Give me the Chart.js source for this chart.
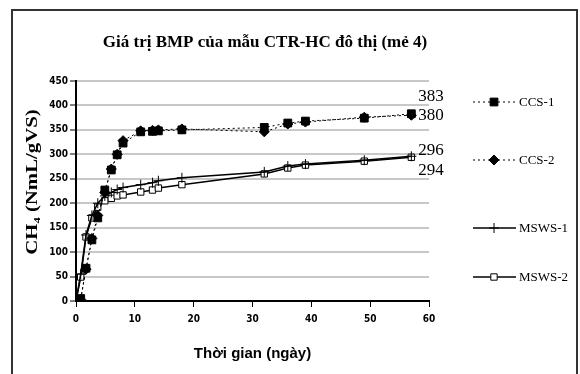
<!doctype html>
<html lang="vi">
  <head>
    <meta charset="utf-8">
    <title>Giá trị BMP của mẫu CTR-HC đô thị (mẻ 4)</title>
    <style>
      * { margin: 0; padding: 0; }
      body { background: #fff; }
      .chartBox { width: 580px; height: 374px; }
    </style>
  </head>
  <body>
    <div class="chartBox">
      <canvas id="myChart" width="580" height="374"></canvas>
    </div>
    <script src="https://cdn.jsdelivr.net/npm/chart.js"></script>
    <script>
    // data
    const days = [0, 0.8, 1.7, 2.7, 3.7, 4.9, 6, 7, 8, 11, 13, 14, 18, 32, 36, 39, 49, 57];
    const ccs1 = [0, 5, 67, 125, 170, 227, 268, 299, 323, 346, 347, 348, 350, 355, 364, 368, 374, 383];
    const ccs2 = [0, 3, 65, 128, 175, 222, 270, 300, 328, 348, 349, 350, 352, 346, 362, 366, 376, 380];
    const msws1 = [0, 55, 135, 175, 200, 215, 222, 228, 232, 238, 242, 246, 252, 264, 276, 280, 288, 296];
    const msws2 = [0, 49, 131, 170, 192, 205, 210, 215, 217, 223, 227, 231, 238, 260, 272, 278, 286, 294];
    const seriesNames = ['CCS-1', 'CCS-2', 'MSWS-1', 'MSWS-2'];
    const endLabels = ['383', '380', '296', '294'];
    const yTicks = [0, 50, 100, 150, 200, 250, 300, 350, 400, 450];
    const xTicks = [0, 10, 20, 30, 40, 50, 60];

    const toPoints = vals => vals.map((v, i) => ({x: days[i], y: v}));

    const data = {
      datasets: [{
        label: seriesNames[0],
        data: toPoints(ccs1),
        borderColor: '#000',
        borderWidth: 1,
        borderDash: [2, 3],
        pointStyle: 'rect',
        pointRadius: 5.5,
        pointBackgroundColor: '#000',
        pointBorderColor: '#000',
        endDy: -17
      }, {
        label: seriesNames[1],
        data: toPoints(ccs2),
        borderColor: '#000',
        borderWidth: 1,
        borderDash: [2, 3],
        pointStyle: 'rectRot',
        pointRadius: 5,
        pointBackgroundColor: '#000',
        pointBorderColor: '#000',
        endDy: 0
      }, {
        label: seriesNames[2],
        data: toPoints(msws1),
        borderColor: '#000',
        borderWidth: 1.5,
        pointStyle: 'cross',
        pointRadius: 5,
        pointBorderWidth: 1,
        pointBorderColor: '#000',
        endDy: -6
      }, {
        label: seriesNames[3],
        data: toPoints(msws2),
        borderColor: '#000',
        borderWidth: 1.5,
        pointStyle: 'rect',
        pointRadius: 4.5,
        pointBorderWidth: 1,
        pointBackgroundColor: '#fff',
        pointBorderColor: '#000',
        endDy: 13
      }]
    };

    // frame, titles, legend and end labels
    const decor = {
      id: 'decor',
      beforeDraw(chart) {
        const ctx = chart.ctx;
        ctx.save();
        ctx.fillStyle = '#fff';
        ctx.fillRect(0, 0, chart.width, chart.height);
        ctx.strokeStyle = '#333';
        ctx.lineWidth = 2;
        ctx.strokeRect(12, 10, 565, 380);
        ctx.restore();
      },
      afterDraw(chart) {
        const ctx = chart.ctx;
        ctx.save();
        ctx.fillStyle = '#000';
        ctx.font = 'bold 17px "Liberation Serif"';
        ctx.textAlign = 'center';
        ctx.textBaseline = 'middle';
        ctx.fillText('Giá trị BMP của mẫu CTR-HC đô thị (mẻ 4)', 265, 43);

        // y axis title, stretched along its length like the original
        ctx.save();
        ctx.translate(33, 182);
        ctx.rotate(-Math.PI / 2);
        ctx.scale(1.3, 1);
        ctx.font = 'bold 16px "Liberation Serif"';
        ctx.fillText('CH₄ (NmL/gVS)', 0, 0);
        ctx.restore();

        // end labels
        ctx.font = '17px "Liberation Serif"';
        ctx.textAlign = 'left';
        chart.data.datasets.forEach((ds, i) => {
          const last = ds.data[ds.data.length - 1];
          const px = chart.scales.x.getPixelForValue(last.x);
          const py = chart.scales.y.getPixelForValue(last.y);
          ctx.fillText(endLabels[i], px + 7, py + ds.endDy);
        });

        // legend
        const legY = [102, 160, 228, 277];
        ctx.font = '13px "Liberation Serif"';
        chart.data.datasets.forEach((ds, i) => {
          const y = legY[i];
          ctx.save();
          ctx.strokeStyle = '#000';
          ctx.lineWidth = ds.borderWidth;
          ctx.setLineDash(ds.borderDash || []);
          ctx.beginPath();
          ctx.moveTo(473, y);
          ctx.lineTo(516, y);
          ctx.stroke();
          ctx.restore();
          ctx.save();
          ctx.fillStyle = ds.pointBackgroundColor || '#000';
          ctx.strokeStyle = '#000';
          ctx.lineWidth = ds.pointBorderWidth || 1;
          Chart.helpers.drawPoint(ctx, {pointStyle: ds.pointStyle, radius: ds.pointRadius, borderWidth: ctx.lineWidth}, 494, y);
          ctx.restore();
          ctx.fillText(ds.label, 519, y + 1);
        });
        ctx.restore();
      }
    };

    const tickFont = {family: '"DejaVu Sans Condensed", "Liberation Sans"', size: 10, weight: 'bold'};

    const config = {
      type: 'line',
      data,
      options: {
        responsive: false,
        animation: false,
        layout: {padding: {left: 0, top: 81, right: 151, bottom: 0}},
        plugins: {legend: {display: false}, tooltip: {enabled: false}},
        scales: {
          x: {
            type: 'linear',
            min: 0,
            max: 60,
            afterBuildTicks: s => { s.ticks = xTicks.map(v => ({value: v})); },
            afterFit: s => { s.height = 73; },
            border: {color: '#000', width: 2},
            grid: {drawOnChartArea: false, drawTicks: true, tickLength: 6, color: '#000'},
            ticks: {color: '#000', font: tickFont, padding: 6, maxRotation: 0},
            title: {
              display: true,
              text: 'Thời gian (ngày)',
              color: '#000',
              font: {family: '"Liberation Sans"', size: 15, weight: 'bold'},
              padding: {top: 0, bottom: 11}
            }
          },
          y: {
            min: 0,
            max: 450,
            afterBuildTicks: s => { s.ticks = yTicks.map(v => ({value: v})); },
            afterFit: s => { s.width = 76; },
            border: {color: '#000', width: 2},
            grid: {color: '#c8c8c8', lineWidth: 2, tickLength: 6, tickColor: '#000', tickWidth: 1},
            ticks: {color: '#000', font: tickFont, padding: 2}
          }
        }
      },
      plugins: [decor]
    };

    const myChart = new Chart(document.getElementById('myChart'), config);
    </script>
  </body>
</html>
